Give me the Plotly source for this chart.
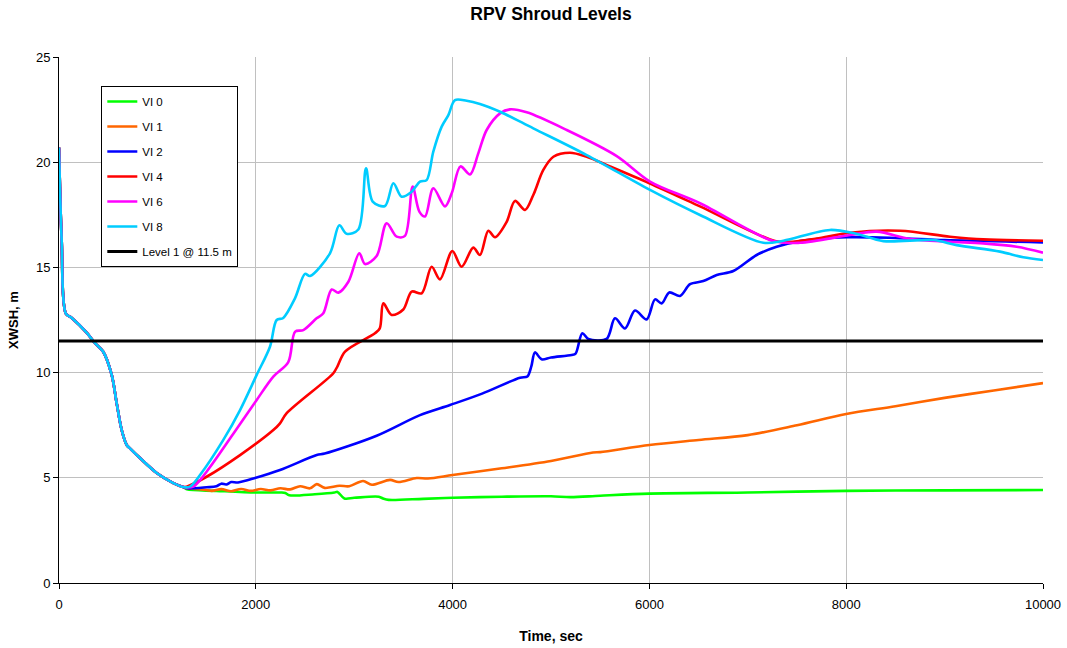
import plotly.graph_objects as go

# Shared early transient (all cases identical until ~1260 s)
t_drain = [0, 27, 70, 130, 281, 366, 448, 535, 586, 637, 688, 721, 823, 993, 1162, 1263]
lvl_drain = [20.7, 16.3, 12.8, 12.6, 11.9, 11.4, 11.0, 9.9, 8.55, 7.27, 6.56, 6.4, 5.94, 5.23, 4.75, 4.56]

# VI 0
t_vi0 = [1300, 1600, 2000, 2250, 2300, 2340, 2600, 2800, 2830, 2900, 3000, 3250, 3300, 3350,
         3700, 4000, 4500, 5000, 5200, 5500, 6000, 7000, 8000, 9000, 10000]
lvl_vi0 = [4.45, 4.38, 4.3, 4.3, 4.28, 4.17, 4.22, 4.3, 4.33, 4.02, 4.05, 4.1, 4.0, 3.95,
           4.0, 4.05, 4.1, 4.12, 4.08, 4.15, 4.25, 4.3, 4.38, 4.4, 4.42]

# VI 1
t_vi1 = [1300, 1450, 1550, 1650, 1750, 1850, 1950, 2050, 2150, 2250, 2350, 2450, 2550, 2620,
         2700, 2850, 2950, 3090, 3180, 3364, 3450, 3635, 3750, 4000, 4500, 5000, 5427, 5500,
         6000, 6500, 7000, 7500, 8000, 8500, 9000, 9500, 10000]
lvl_vi1 = [4.5, 4.45, 4.38, 4.46, 4.36, 4.47, 4.38, 4.47, 4.4, 4.5, 4.45, 4.6, 4.5, 4.7,
           4.52, 4.62, 4.6, 4.85, 4.67, 4.9, 4.8, 4.99, 4.97, 5.13, 5.45, 5.8, 6.2, 6.22,
           6.56, 6.8, 7.03, 7.5, 8.03, 8.4, 8.8, 9.15, 9.5]

# VI 2
t_vi2 = [1300, 1500, 1600, 1650, 1700, 1750, 1820, 2000, 2246, 2619, 2700, 3228, 3669, 3974,
         4300, 4685, 4760, 4800, 4837, 4905, 5000, 5210, 5250, 5318, 5379, 5565, 5650, 5752,
         5854, 5972, 6057, 6125, 6202, 6311, 6413, 6548, 6684, 6853, 7090, 7293, 7530, 8005,
         8500, 9000, 10000]
lvl_vi2 = [4.5, 4.55, 4.6, 4.72, 4.68, 4.8, 4.78, 5.0, 5.37, 6.08, 6.15, 7.0, 7.98, 8.46,
           9.0, 9.76, 9.82, 10.3, 10.96, 10.63, 10.72, 10.84, 10.9, 11.87, 11.6, 11.6, 12.58, 12.1,
           12.95, 12.53, 13.48, 13.29, 13.81, 13.64, 14.2, 14.35, 14.64, 14.83, 15.59, 15.98, 16.25, 16.43,
           16.4, 16.3, 16.19]

# VI 4
t_vi4 = [1297, 1500, 1840, 2178, 2246, 2314, 2788, 2830, 2907, 3211, 3260, 3296, 3381, 3499,
         3584, 3686, 3787, 3872, 3997, 4092, 4210, 4278, 4363, 4431, 4550, 4634, 4736, 4820,
         4922, 5024, 5193, 5363, 5600, 6000, 6514, 7276, 7450, 7700, 8039, 8547, 9055, 9393, 10000]
lvl_vi4 = [4.58, 5.05, 6.08, 7.27, 7.59, 8.07, 9.97, 10.3, 11.0, 11.87, 12.1, 13.29, 12.74, 13.0,
           13.85, 13.77, 15.03, 14.43, 15.78, 15.03, 15.94, 15.59, 16.74, 16.43, 17.17, 18.16, 17.73, 18.44,
           19.63, 20.26, 20.45, 20.26, 19.8, 19.0, 17.9, 16.25, 16.22, 16.37, 16.65, 16.74, 16.46, 16.33, 16.27]

# VI 6
t_vi6 = [1365, 1500, 1840, 2009, 2178, 2330, 2400, 2483, 2618, 2686, 2771, 2839, 2941, 3052,
         3110, 3228, 3330, 3432, 3516, 3594, 3662, 3720, 3804, 3923, 3991, 4080, 4177, 4261,
         4346, 4482, 4583, 4753, 5160, 5668, 6006, 6514, 7259, 7530, 8039, 8310, 8648, 9055,
         9393, 9733, 10000]
lvl_vi6 = [4.58, 5.29, 7.56, 8.7, 9.81, 10.5, 11.95, 12.02, 12.58, 12.82, 13.95, 13.8, 14.32, 15.67,
           15.16, 15.54, 17.1, 16.46, 16.5, 18.84, 17.65, 17.42, 18.76, 17.9, 18.52, 19.8, 19.42, 20.42,
           21.53, 22.32, 22.51, 22.37, 21.53, 20.29, 19.08, 18.05, 16.25, 16.17, 16.54, 16.7, 16.35, 16.22,
           16.14, 15.98, 15.7]

# VI 8
t_vi8 = [1331, 1433, 1670, 1840, 2009, 2144, 2212, 2279, 2398, 2500, 2551, 2754, 2849, 2923,
         3042, 3120, 3188, 3313, 3398, 3482, 3584, 3669, 3736, 3804, 3889, 3957, 4024, 4143,
         4278, 4482, 4820, 5363, 6006, 6514, 7158, 7361, 7835, 8100, 8377, 8885, 9123, 9563,
         9800, 10000]
lvl_vi8 = [4.58, 5.13, 6.8, 8.22, 9.89, 11.23, 12.5, 12.6, 13.53, 14.69, 14.59, 15.67, 17.0, 16.6,
           16.8, 19.71, 18.13, 17.92, 19.0, 18.36, 18.6, 19.08, 19.15, 20.5, 21.69, 22.24, 22.95, 22.92,
           22.77, 22.4, 21.61, 20.34, 18.68, 17.49, 16.17, 16.27, 16.78, 16.6, 16.25, 16.3, 16.06, 15.75,
           15.48, 15.35]

level1_t = [0, 10000]
level1_val = [11.5, 11.5]

cases = [
    ("VI 0", t_vi0, lvl_vi0, "#00ff00"),
    ("VI 1", t_vi1, lvl_vi1, "#ff6600"),
    ("VI 2", t_vi2, lvl_vi2, "#0000ff"),
    ("VI 4", t_vi4, lvl_vi4, "#ff0000"),
    ("VI 6", t_vi6, lvl_vi6, "#ff00ff"),
    ("VI 8", t_vi8, lvl_vi8, "#00ccff"),
]

fig = go.Figure()
for name, tt, vv, col in cases:
    fig.add_trace(go.Scatter(
        x=t_drain + tt, y=lvl_drain + vv, name=name, mode="lines",
        legendgroup=name,
        line=dict(color=col, width=2.6, shape="spline", smoothing=0.9),
    ))

fig.add_trace(go.Scatter(
    x=level1_t, y=level1_val, name="Level 1 @ 11.5 m", mode="lines",
    legendgroup="lvl1", line=dict(color="black", width=3),
))

font = "Liberation Sans, Arial, sans-serif"
fig.update_layout(
    width=1067, height=648,
    margin=dict(l=59, r=24, t=57, b=65),
    paper_bgcolor="white", plot_bgcolor="white",
    font=dict(family=font, size=13, color="black"),
    title=dict(text="<b>RPV Shroud Levels</b>", x=(59 + 1043) / 2 / 1067, xanchor="center",
               y=1 - 14 / 648, yanchor="middle", font=dict(size=17.5)),
    showlegend=True,
    legend=dict(x=0.043, y=0.945, xanchor="left", yanchor="top",
                bordercolor="black", borderwidth=1, bgcolor="white",
                font=dict(size=11.5), tracegroupgap=6, itemwidth=30),
    xaxis=dict(range=[0, 10000], dtick=2000, tickformat="d", showgrid=True,
               gridcolor="#c0c0c0", gridwidth=1, automargin=False,
               showline=True, linecolor="black", linewidth=1, ticks="outside", ticklen=5,
               tickcolor="black", zeroline=False, ticklabelstandoff=4,
               title=dict(text="<b>Time, sec</b>", font=dict(size=14), standoff=20)),
    yaxis=dict(range=[0, 25], dtick=5, showgrid=True, gridcolor="#c0c0c0", gridwidth=1,
               automargin=False,
               showline=True, linecolor="black", linewidth=1, ticks="outside", ticklen=5,
               tickcolor="black", zeroline=False,
               title=dict(text="<b>XWSH, m</b>", font=dict(size=13), standoff=14)),
)

fig.write_html("out.html")
